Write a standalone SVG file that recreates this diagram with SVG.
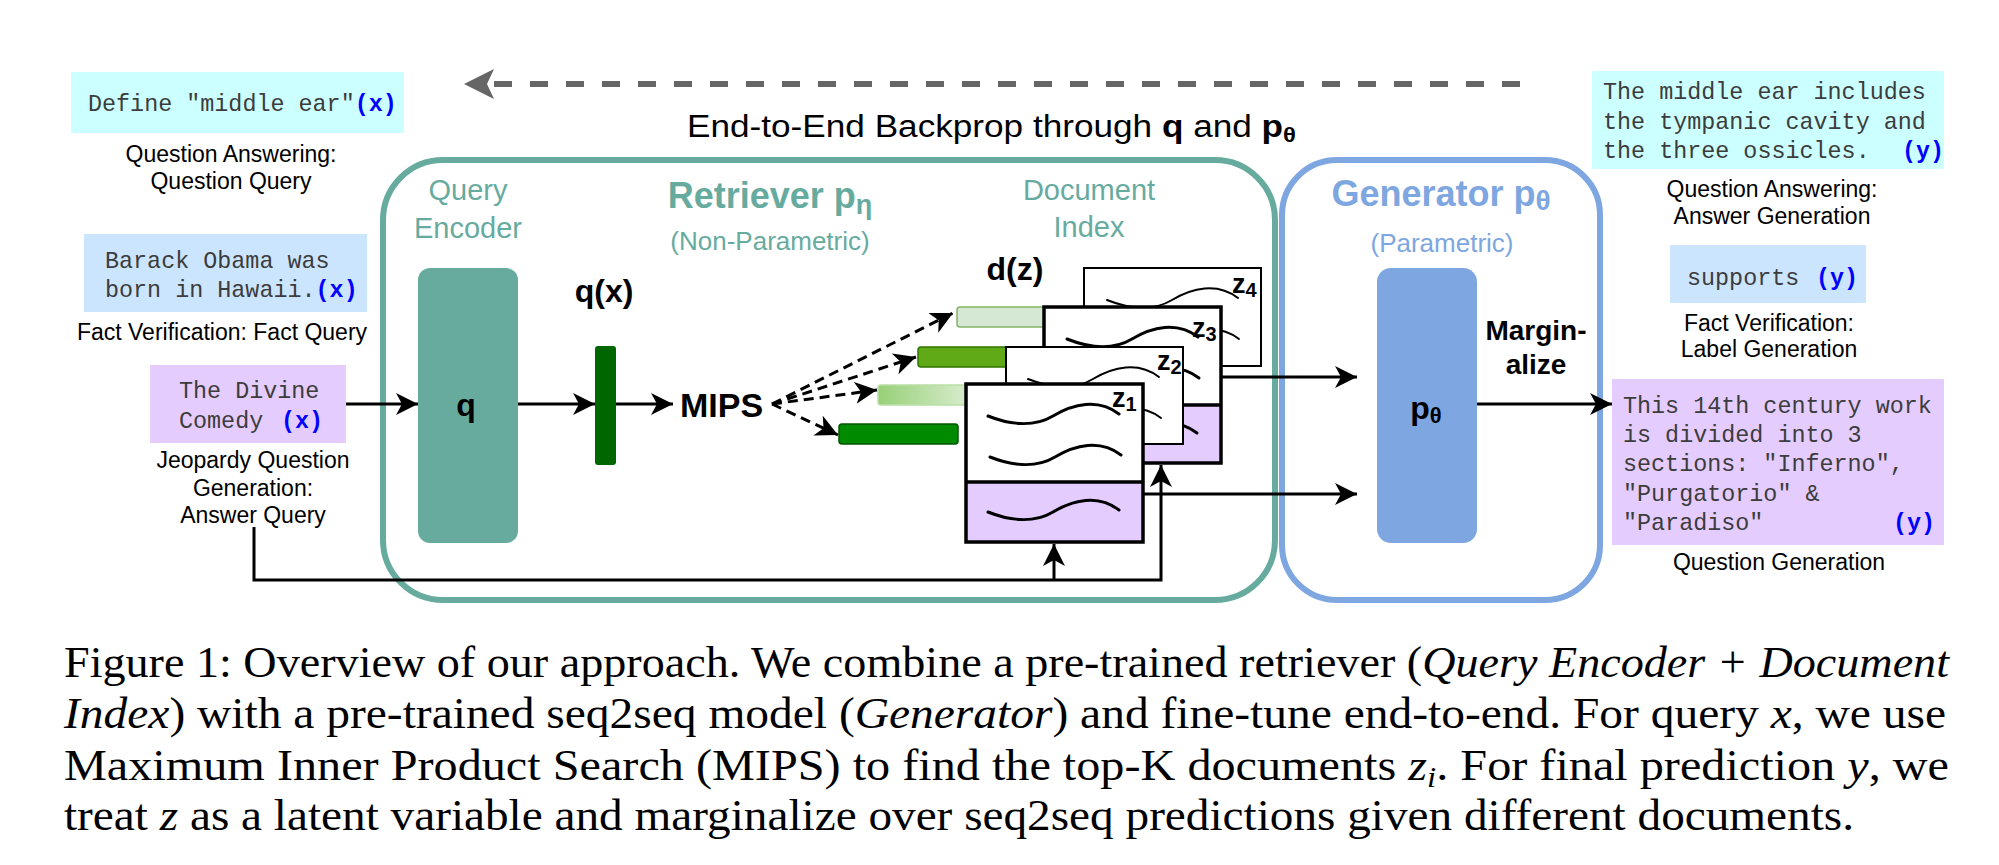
<svg xmlns="http://www.w3.org/2000/svg" width="1999" height="865" viewBox="0 0 1999 865">
<defs>
<style>
.sans{font-family:"Liberation Sans",Arial,Helvetica,sans-serif}
.lbl{font-family:"Liberation Sans",Arial,Helvetica,sans-serif;font-size:23px;fill:#000;text-anchor:middle}
.mono{font-family:"Liberation Mono","Courier New",monospace;font-size:23.4px;fill:#3c3c3c}
.v{font-weight:bold;fill:#0000ff}
.teal{fill:#67ab9f}
.blue{fill:#7ea6e0}
.b{font-weight:bold}
.cap{font-family:"Liberation Serif","Times New Roman",serif;font-size:44px;fill:#000}
.it{font-style:italic}
.ln{fill:none;stroke:#000;stroke-width:3}
.dash{fill:none;stroke:#000;stroke-width:3;stroke-dasharray:10 6}
.wave{fill:none;stroke:#000;stroke-linecap:round}
.zl{font-family:"Liberation Sans",Arial,Helvetica,sans-serif;font-size:27px;font-weight:bold;fill:#000}
</style>
<marker id="ah" markerUnits="userSpaceOnUse" viewBox="0 0 24 22" markerWidth="24" markerHeight="22" refX="22" refY="11" orient="auto">
<path d="M0,0 L22,11 L0,22 L6,11 Z" fill="#000"/>
</marker>
<marker id="ahg" markerUnits="userSpaceOnUse" viewBox="0 0 30 30" markerWidth="30" markerHeight="30" refX="7" refY="15" orient="auto">
<path d="M0,0 L30,15 L0,30 L7,15 Z" fill="#666"/>
</marker>
<linearGradient id="gg" x1="0" y1="0" x2="1" y2="0">
<stop offset="0" stop-color="#97d077"/>
<stop offset="1" stop-color="#e6f2e0"/>
</linearGradient>
<path id="wv" d="M0,0 C20,8 45,12 65,0 S110,-18 131,-2"/>
</defs>
<rect width="1999" height="865" fill="#fff"/>

<!-- backprop label and arrow -->
<g id="backprop">
<path d="M1520,84 H487" fill="none" stroke="#666" stroke-width="6" stroke-dasharray="18 18" marker-end="url(#ahg)"/>
<text x="687" y="137" class="sans" font-size="31" textLength="609" lengthAdjust="spacingAndGlyphs">End-to-End Backprop through <tspan class="b">q</tspan> and <tspan class="b">p<tspan font-size="21" dy="5">θ</tspan></tspan></text>
</g>

<!-- retriever container -->
<g id="retriever">
<rect x="383" y="160" width="892" height="440" rx="60" fill="none" stroke="#67ab9f" stroke-width="6"/>
<text x="770" y="208" text-anchor="middle" class="sans teal b" font-size="36">Retriever p<tspan font-size="27" dy="6">η</tspan></text>
<text x="770" y="250" text-anchor="middle" class="sans teal" font-size="26">(Non-Parametric)</text>
</g>

<!-- generator container -->
<g id="generator">
<rect x="1282" y="160" width="318" height="440" rx="55" fill="none" stroke="#7ea6e0" stroke-width="6"/>
<text x="1441" y="206" text-anchor="middle" class="sans blue b" font-size="36">Generator p<tspan font-size="28" dy="4">θ</tspan></text>
<text x="1442" y="252" text-anchor="middle" class="sans blue" font-size="26">(Parametric)</text>
</g>

<!-- left inputs -->
<g id="input-qa">
<rect x="71" y="72" width="333" height="61" fill="#ccffff"/>
<text x="88" y="111" class="mono">Define "middle ear"<tspan class="v">(x)</tspan></text>
<text x="231" y="162" class="lbl">Question Answering:</text>
<text x="231" y="189" class="lbl">Question Query</text>
</g>
<g id="input-fact">
<rect x="84" y="234" width="283" height="78" fill="#cce5ff"/>
<text x="105" y="268" class="mono">Barack Obama was</text>
<text x="105" y="297" class="mono">born in Hawaii.<tspan class="v">(x)</tspan></text>
<text x="222" y="340" class="lbl">Fact Verification: Fact Query</text>
</g>
<g id="input-jeopardy">
<rect x="150" y="365" width="196" height="78" fill="#e5ccff"/>
<text x="179" y="398" class="mono">The Divine</text>
<text x="179" y="428" class="mono">Comedy <tspan class="v" x="281">(x)</tspan></text>
<text x="253" y="468" class="lbl">Jeopardy Question</text>
<text x="253" y="496" class="lbl">Generation:</text>
<text x="253" y="523" class="lbl">Answer Query</text>
</g>

<!-- query encoder -->
<g id="query-encoder">
<text x="468" y="200" text-anchor="middle" class="sans teal" font-size="29">Query</text>
<text x="468" y="238" text-anchor="middle" class="sans teal" font-size="29">Encoder</text>
<rect x="418" y="268" width="100" height="275" rx="12" fill="#67ab9f"/>
<text x="466" y="416" text-anchor="middle" class="sans b" font-size="32">q</text>
</g>

<!-- query vector -->
<g id="qx">
<text x="604" y="302" text-anchor="middle" class="sans b" font-size="32">q(x)</text>
<rect x="595" y="346" width="21" height="119" rx="3" fill="#006600"/>
</g>

<g id="mips">
<text x="680" y="417" class="sans b" font-size="34">MIPS</text>
</g>

<!-- document index -->
<g id="document-index">
<text x="1089" y="200" text-anchor="middle" class="sans teal" font-size="29">Document</text>
<text x="1089" y="237" text-anchor="middle" class="sans teal" font-size="29">Index</text>
<text x="1015" y="280" text-anchor="middle" class="sans b" font-size="32">d(z)</text>
</g>

<g id="dz-vectors">
<rect x="957" y="307" width="110" height="20" rx="3" fill="#d5e8d4" stroke="#82b366" stroke-width="1.5"/>
<rect x="918" y="347" width="110" height="20" rx="3" fill="#60a917" stroke="#2d7600" stroke-width="1.5"/>
<rect x="878" y="385" width="110" height="20" rx="3" fill="url(#gg)" stroke="#b9e0a5" stroke-width="1.5"/>
<rect x="839" y="424" width="119" height="20" rx="3" fill="#008a00" stroke="#005700" stroke-width="1.5"/>
</g>

<!-- documents -->
<g id="doc-z4">
<rect x="1084" y="268" width="177" height="98" fill="#fff" stroke="#000" stroke-width="2"/>
<use href="#wv" x="1107" y="300" class="wave" stroke-width="2"/>
<use href="#wv" x="1108" y="341" class="wave" stroke-width="2"/>
<text x="1232" y="293" class="zl">z<tspan font-size="20" dy="4">4</tspan></text>
</g>
<g id="doc-z3">
<rect x="1044" y="307" width="177" height="98" fill="#fff"/>
<rect x="1044" y="405" width="177" height="58" fill="#e5ccff"/>
<use href="#wv" x="1067" y="339" class="wave" stroke-width="3"/>
<use href="#wv" x="1068" y="380" class="wave" stroke-width="3"/>
<use href="#wv" x="1066" y="435" class="wave" stroke-width="3"/>
<rect x="1044" y="307" width="177" height="156" fill="none" stroke="#000" stroke-width="3.5"/>
<line x1="1044" y1="405" x2="1221" y2="405" stroke="#000" stroke-width="3.5"/>
<text x="1192" y="337" class="zl">z<tspan font-size="20" dy="4">3</tspan></text>
</g>
<g id="doc-z2">
<rect x="1006" y="347" width="177" height="97" fill="#fff" stroke="#000" stroke-width="2"/>
<use href="#wv" x="1028" y="379" class="wave" stroke-width="2"/>
<use href="#wv" x="1030" y="420" class="wave" stroke-width="2"/>
<text x="1157" y="370" class="zl">z<tspan font-size="20" dy="4">2</tspan></text>
</g>
<g id="doc-z1">
<rect x="966" y="384" width="177" height="98" fill="#fff"/>
<rect x="966" y="482" width="177" height="60" fill="#e5ccff"/>
<use href="#wv" x="988" y="416" class="wave" stroke-width="3"/>
<use href="#wv" x="990" y="457" class="wave" stroke-width="3"/>
<use href="#wv" x="988" y="512" class="wave" stroke-width="3"/>
<rect x="966" y="384" width="177" height="158" fill="none" stroke="#000" stroke-width="3.5"/>
<line x1="966" y1="482" x2="1143" y2="482" stroke="#000" stroke-width="3.5"/>
<text x="1112" y="407" class="zl">z<tspan font-size="20" dy="4">1</tspan></text>
</g>

<!-- generator model -->
<g id="p-theta">
<rect x="1377" y="268" width="100" height="275" rx="14" fill="#7ea6e0"/>
<text x="1426" y="419" text-anchor="middle" class="sans b" font-size="32">p<tspan font-size="22" dy="4">θ</tspan></text>
</g>
<g id="marginalize">
<text x="1536" y="340" text-anchor="middle" class="sans b" font-size="28">Margin-</text>
<text x="1536" y="374" text-anchor="middle" class="sans b" font-size="28">alize</text>
</g>

<!-- right outputs -->
<g id="output-qa">
<rect x="1592" y="71" width="352" height="98" fill="#ccffff"/>
<text x="1603" y="99" class="mono">The middle ear includes</text>
<text x="1603" y="129" class="mono">the tympanic cavity and</text>
<text x="1603" y="158" class="mono">the three ossicles.<tspan class="v" x="1902">(y)</tspan></text>
<text x="1772" y="197" class="lbl">Question Answering:</text>
<text x="1772" y="224" class="lbl">Answer Generation</text>
</g>
<g id="output-fact">
<rect x="1670" y="245" width="196" height="58" fill="#cce5ff"/>
<text x="1687" y="285" class="mono">supports <tspan class="v" x="1816">(y)</tspan></text>
<text x="1769" y="331" class="lbl">Fact Verification:</text>
<text x="1769" y="357" class="lbl">Label Generation</text>
</g>
<g id="output-qg">
<rect x="1612" y="379" width="332" height="166" fill="#e5ccff"/>
<text x="1623" y="413" class="mono">This 14th century work</text>
<text x="1623" y="442" class="mono">is divided into 3</text>
<text x="1623" y="471" class="mono">sections: "Inferno",</text>
<text x="1623" y="501" class="mono">"Purgatorio" &amp;</text>
<text x="1623" y="530" class="mono">"Paradiso"<tspan class="v" x="1893">(y)</tspan></text>
<text x="1779" y="570" class="lbl">Question Generation</text>
</g>

<!-- connectors -->
<g id="connectors">
<path class="ln" d="M346,404 H418" marker-end="url(#ah)"/>
<path class="ln" d="M518,404 H595" marker-end="url(#ah)"/>
<path class="ln" d="M616,404 H673" marker-end="url(#ah)"/>
<path class="dash" d="M772,404 L953,313" marker-end="url(#ah)"/>
<path class="dash" d="M772,404 L916,357" marker-end="url(#ah)"/>
<path class="dash" d="M772,404 L877,390" marker-end="url(#ah)"/>
<path class="dash" d="M772,404 L838,435" marker-end="url(#ah)"/>
<path class="ln" d="M1221,377 H1357" marker-end="url(#ah)"/>
<path class="ln" d="M1143,494 H1357" marker-end="url(#ah)"/>
<path class="ln" d="M1477,404 H1612" marker-end="url(#ah)"/>
<path class="ln" d="M254,527 V580 H1161 V465" marker-end="url(#ah)"/>
<path class="ln" d="M1054,580 V544" marker-end="url(#ah)"/>
</g>

<!-- caption -->
<g id="caption">
<text x="64" y="677" class="cap" textLength="1885" lengthAdjust="spacingAndGlyphs">Figure 1: Overview of our approach. We combine a pre-trained retriever (<tspan class="it">Query Encoder + Document</tspan></text>
<text x="64" y="728" class="cap" textLength="1882" lengthAdjust="spacingAndGlyphs"><tspan class="it">Index</tspan>) with a pre-trained seq2seq model (<tspan class="it">Generator</tspan>) and fine-tune end-to-end. For query <tspan class="it">x</tspan>, we use</text>
<text x="64" y="780" class="cap" textLength="1885" lengthAdjust="spacingAndGlyphs">Maximum Inner Product Search (MIPS) to find the top-K documents <tspan class="it">z</tspan><tspan class="it" font-size="30" dy="7">i</tspan><tspan dy="-7">. For final prediction </tspan><tspan class="it">y</tspan>, we</text>
<text x="64" y="830" class="cap" textLength="1790" lengthAdjust="spacingAndGlyphs">treat <tspan class="it">z</tspan> as a latent variable and marginalize over seq2seq predictions given different documents.</text>
</g>
</svg>
